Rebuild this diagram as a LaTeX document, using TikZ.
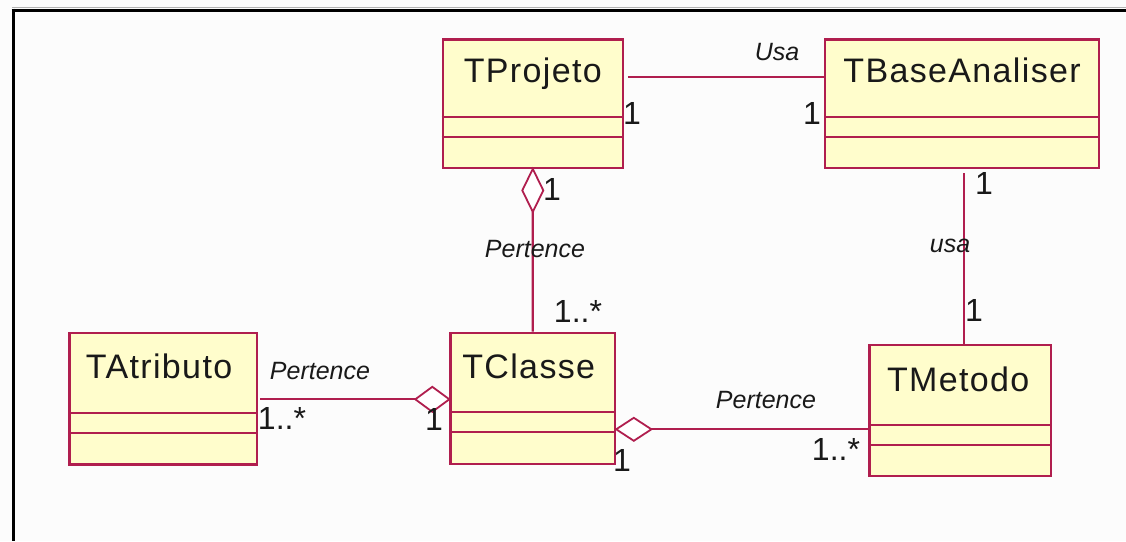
\documentclass[tikz,border=0pt]{standalone}
\usepackage{fontspec}
\setmainfont{Liberation Sans}
\newfontfamily\clsfont[LetterSpace=4]{Liberation Sans}
\usetikzlibrary{calc}
\definecolor{umlred}{RGB}{176,30,78}
\definecolor{umlfill}{RGB}{255,253,204}
\definecolor{bgc}{RGB}{252,252,252}
\tikzset{
  cls/.style={draw=umlred, fill=umlfill, line width=2.2pt, inner sep=0pt, anchor=north west},
  divider/.style={draw=umlred, line width=2.2pt},
  assoc/.style={draw=umlred, line width=2.2pt},
  diam/.style={draw=umlred, line width=1.8pt, fill=white, line join=miter},
  title/.style={font=\clsfont\fontsize{34}{40}\selectfont, inner sep=0pt, anchor=base, text=black!90},
  role/.style={font=\itshape\fontsize{25}{30}\selectfont, inner sep=0pt, text=black!90},
  mult/.style={font=\fontsize{32}{38}\selectfont, inner sep=0pt, text=black!90},
}
\begin{document}
\begin{tikzpicture}[x=1pt,y=-1pt]
\fill[bgc] (0,0) rectangle (1126,541);
\useasboundingbox (0,0) rectangle (1126,541);
% frame
\draw[gray!60, line width=1.2pt] (12,7.2) -- (1126,7.2);
\draw[black, line width=3pt] (11.5,10) -- (1126,10);
\draw[black, line width=3pt] (13,8.5) -- (13,541);

% classes
\node[cls, minimum width=180pt, minimum height=128.4pt] (proj) at (441.7,38.3) {};
\node[title] (projT) at ([yshift=-44pt]proj.north) {TProjeto};
\draw[divider] ([yshift=-78.4pt]proj.north west) -- ([yshift=-78.4pt]proj.north east);
\draw[divider] ([yshift=-98.4pt]proj.north west) -- ([yshift=-98.4pt]proj.north east);

\node[cls, minimum width=274pt, minimum height=128.4pt] (base) at (824,38.3) {};
\node[title] (baseT) at ([yshift=-44pt]base.north) {TBaseAnaliser};
\draw[divider] ([yshift=-78.4pt]base.north west) -- ([yshift=-78.4pt]base.north east);
\draw[divider] ([yshift=-98.4pt]base.north west) -- ([yshift=-98.4pt]base.north east);

\node[cls, minimum width=187.4pt, minimum height=131.6pt] (atr) at (68.3,331.7) {};
\node[title] (atrT) at ([xshift=-4pt,yshift=-47pt]atr.north) {TAtributo};
\draw[divider] ([yshift=-81pt]atr.north west) -- ([yshift=-81pt]atr.north east);
\draw[divider] ([yshift=-101pt]atr.north west) -- ([yshift=-101pt]atr.north east);

\node[cls, minimum width=164.7pt, minimum height=131pt] (cla) at (449.3,331.7) {};
\node[title] (claT) at ([xshift=-4pt,yshift=-47pt]cla.north) {TClasse};
\draw[divider] ([yshift=-80pt]cla.north west) -- ([yshift=-80pt]cla.north east);
\draw[divider] ([yshift=-100pt]cla.north west) -- ([yshift=-100pt]cla.north east);

\node[cls, minimum width=181.7pt, minimum height=131pt] (met) at (868.3,344) {};
\node[title] (metT) at ([xshift=-2pt,yshift=-47pt]met.north) {TMetodo};
\draw[divider] ([yshift=-81pt]met.north west) -- ([yshift=-81pt]met.north east);
\draw[divider] ([yshift=-101pt]met.north west) -- ([yshift=-101pt]met.north east);

% TProjeto -- TBaseAnaliser
\draw[assoc] ([xshift=4pt,yshift=-38.4pt]proj.north east) -- ([yshift=-38.4pt]base.north west);
\node[role] (usa1) at (777,52) {Usa};
\node[mult] (m1) at (632,113) {1};
\node[mult] (m2) at (812,113) {1};

% TProjeto <>-- TClasse
\draw[diam] (proj.south) -- ++(-10.5,21.5) coordinate (d1l) -- ++(10.5,21.5) coordinate (d1b) -- ++(10.5,-21.5) coordinate (d1r) -- cycle;
\draw[assoc] (d1b) -- (cla.north);
\node[mult] (m3) at (552,189) {1};
\node[role] (per1) at (535,249) {Pertence};
\node[mult] (m4) at (578,311) {1..*};

% TBaseAnaliser -- TMetodo
\coordinate (b2) at ([xshift=1.7pt,yshift=-4.3pt]base.south);
\draw[assoc] (b2) -- (b2 |- met.north);
\node[mult] (m5) at (984,183) {1};
\node[role] (usa2) at (950,246) {usa};
\node[mult] (m6) at (974,310) {1};

% TAtributo --<> TClasse
\coordinate (c1) at ([yshift=-67.6pt]cla.north west);
\draw[diam] (c1) -- ++(-17,-12.5) -- ++(-17,12.5) coordinate (c1e) -- ++(17,12.5) -- cycle;
\draw[assoc] ([xshift=2.5pt]atr.east |- c1e) -- (c1e);
\node[role] (per2) at (320,371) {Pertence};
\node[mult] (m7) at (282,418) {1..*};
\node[mult] (m8) at (434,419) {1};

% TClasse <>-- TMetodo
\coordinate (c2) at ([yshift=-97.6pt]cla.north east);
\draw[diam] (c2) -- ++(17.6,-11.5) -- ++(17.6,11.5) coordinate (c2e) -- ++(-17.6,11.5) -- cycle;
\draw[assoc] (c2e) -- (met.west |- c2e);
\node[role] (per3) at (766,400) {Pertence};
\node[mult] (m9) at (836,449) {1..*};
\node[mult] (m10) at (622,460) {1};
\end{tikzpicture}
\end{document}
